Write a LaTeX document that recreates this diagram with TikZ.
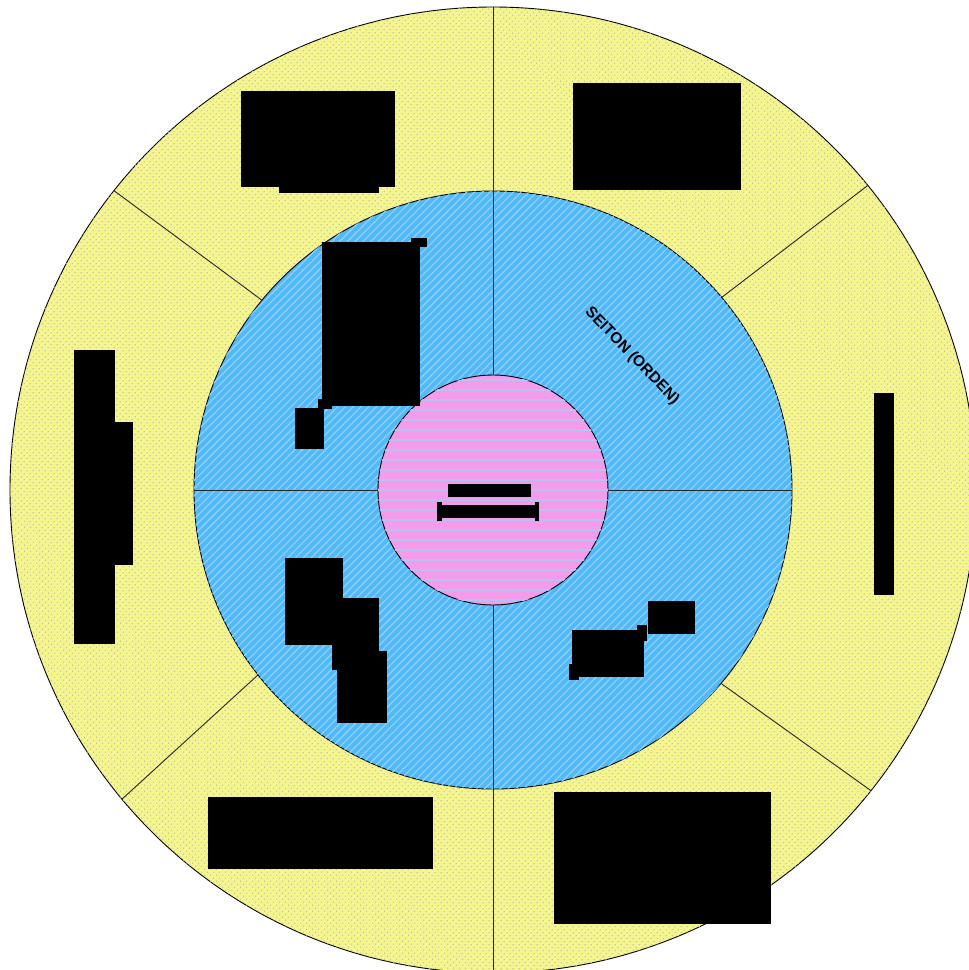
\documentclass[tikz,border=0pt]{standalone}
\usepackage{fontspec}
\setmainfont{Liberation Sans}
\usetikzlibrary{patterns.meta}
\definecolor{ringY}{RGB}{245,245,140}
\definecolor{dotC}{RGB}{175,192,235}
\definecolor{ringB}{RGB}{80,185,250}
\definecolor{stripeC}{RGB}{145,208,250}
\definecolor{ringP}{RGB}{245,155,235}
\definecolor{lineC}{RGB}{180,195,240}
\tikzset{
  outerring/.style={fill=ringY, draw=black, line width=0.9pt,
    postaction={pattern={Dots[radius=0.8pt,distance=4pt,angle=45]}, pattern color=dotC}},
  midring/.style={fill=ringB, draw=black, line width=0.9pt,
    postaction={pattern={Lines[angle=45,distance=5.5pt,line width=1.3pt]}, pattern color=stripeC}},
  innerring/.style={fill=ringP, draw=black, line width=0.9pt,
    postaction={pattern={Lines[angle=0,distance=10pt,line width=1.1pt]}, pattern color=lineC}},
  divider/.style={draw=black!85, line width=0.9pt},
  redact/.style={fill=black},
  label/.style={font=\bfseries\fontsize{15.5}{17}\selectfont, inner sep=0pt}
}
\begin{document}
\begin{tikzpicture}[x=1pt,y=-1pt]
\useasboundingbox (0,0) rectangle (969,970);
\clip (0,0) rectangle (969,970);
\coordinate (c) at (493,490);
% rings
\path[outerring] (c) circle[radius=483];
\path[midring] (c) circle[radius=299];
\path[innerring] (c) circle[radius=115];
% outer dividers
\coordinate (o1a) at ([shift={(-90:299)}]c);
\coordinate (o1b) at ([shift={(-90:483)}]c);
\coordinate (o2a) at ([shift={(90:299)}]c);
\coordinate (o2b) at ([shift={(90:483)}]c);
\coordinate (o3a) at ([shift={(-40.1:299)}]c);
\coordinate (o3b) at ([shift={(-39.1:483)}]c);
\coordinate (o4a) at ([shift={(40.3:299)}]c);
\coordinate (o4b) at ([shift={(38.5:483)}]c);
\coordinate (o5a) at ([shift={(141.8:299)}]c);
\coordinate (o5b) at ([shift={(140.2:483)}]c);
\coordinate (o6a) at ([shift={(219.4:299)}]c);
\coordinate (o6b) at ([shift={(218.3:483)}]c);
\foreach \n in {1,...,6} {\draw[divider] (o\n a) -- (o\n b);}
% inner dividers
\coordinate (i1a) at ([shift={(0:115)}]c);
\coordinate (i1b) at ([shift={(0:299)}]c);
\coordinate (i2a) at ([shift={(90:115)}]c);
\coordinate (i2b) at ([shift={(90:299)}]c);
\coordinate (i3a) at ([shift={(180:115)}]c);
\coordinate (i3b) at ([shift={(180:299)}]c);
\coordinate (i4a) at ([shift={(270:115)}]c);
\coordinate (i4b) at ([shift={(270:299)}]c);
\foreach \n in {1,...,4} {\draw[divider] (i\n a) -- (i\n b);}
% label
\node[label, rotate=-46] (seiton) at (632,356) {SEITON (ORDEN)};
% redacted blocks
\fill[redact] (241,91) rectangle (395,187);
\fill[redact] (279,186) rectangle (379,193);
\fill[redact] (573,83) rectangle (741,190);
\fill[redact] (322,242) rectangle (420,406);
\fill[redact] (411,238) rectangle (427,247);
\fill[redact] (318,399) rectangle (332,409);
\fill[redact] (295,408) rectangle (324,449);
\fill[redact] (74,350) rectangle (115,644);
\fill[redact] (114,422) rectangle (133,565);
\fill[redact] (874,393) rectangle (894,595);
\fill[redact] (285,558) rectangle (343,645);
\fill[redact] (332,598) rectangle (379,670);
\fill[redact] (337,651) rectangle (387,723);
\fill[redact] (572,630) rectangle (644,677);
\fill[redact] (637,625) rectangle (647,641);
\fill[redact] (648,601) rectangle (695,634);
\fill[redact] (569,664) rectangle (579,680);
\fill[redact] (208,797) rectangle (433,869);
\fill[redact] (554,792) rectangle (771,924);
\fill[redact] (448,484) rectangle (531,497);
\fill[redact] (442,505) rectangle (535,518);
\fill[redact] (437,502) rectangle (442,521);
\fill[redact] (535,502) rectangle (539,521);
\end{tikzpicture}
\end{document}
